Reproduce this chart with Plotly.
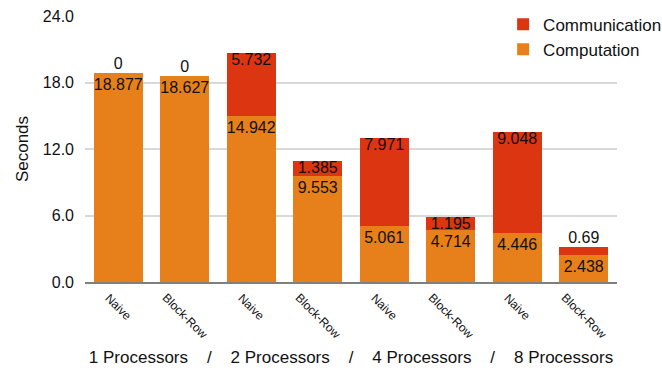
import plotly.graph_objects as go

# Data
methods = ["Naive", "Block-Row", "Naive", "Block-Row", "Naive", "Block-Row", "Naive", "Block-Row"]
computation = [18.877, 18.627, 14.942, 9.553, 5.061, 4.714, 4.446, 2.438]
communication = [0, 0, 5.732, 1.385, 7.971, 1.195, 9.048, 0.69]
y_ticks = [0, 6, 12, 18, 24]
group_title = ("1 Processors\u00a0\u00a0\u00a0\u00a0/\u00a0\u00a0\u00a0\u00a0"
               "2 Processors\u00a0\u00a0\u00a0\u00a0/\u00a0\u00a0\u00a0\u00a0"
               "4 Processors\u00a0\u00a0\u00a0\u00a0/\u00a0\u00a0\u00a0\u00a0"
               "8 Processors")

positions = list(range(len(methods)))
FONT = "Liberation Sans, Arial, Helvetica, sans-serif"


def fmt(v):
    return f"{v:g}"


stack_tops = [c + m for c, m in zip(computation, communication)]
# short communication segments carry their label above the stack,
# the others hang from the top of the stack
comm_textpos = ["top center" if v < 1.0 else "bottom center" for v in communication]

fig = go.Figure()
fig.add_trace(go.Bar(
    x=positions, y=computation, name="Computation",
    marker=dict(color="#E7801A", line=dict(width=0)),
    text=[fmt(v) for v in computation],
    textposition="inside", insidetextanchor="end", textangle=0,
    textfont=dict(color="#111111", size=16, family=FONT),
    constraintext="none",
))
fig.add_trace(go.Bar(
    x=positions, y=communication, name="Communication",
    marker=dict(color="#DC3511", line=dict(width=0)),
))
fig.add_trace(go.Scatter(
    x=positions, y=stack_tops, mode="text",
    text=[fmt(v) for v in communication], textposition=comm_textpos,
    textfont=dict(color="#111111", size=16, family=FONT),
    showlegend=False, hoverinfo="skip", cliponaxis=False,
))

# rotated method labels, centred under each bar
for p, m in zip(positions, methods):
    fig.add_annotation(
        x=p, y=0, xref="x", yref="y", text=m, showarrow=False,
        textangle=45, xanchor="center", yanchor="top", yshift=-6,
        font=dict(size=12, family=FONT, color="#111111"),
    )

fig.update_layout(
    width=662, height=372,
    margin=dict(l=85, r=45, t=16, b=90, autoexpand=False),
    barmode="stack", bargap=0.26,
    paper_bgcolor="white", plot_bgcolor="white",
    font=dict(family=FONT, color="#111111"),
    uniformtext=dict(minsize=16, mode="show"),
    legend=dict(
        xref="container", yref="container",
        x=0.76, y=0.982, xanchor="left", yanchor="top",
        font=dict(size=17, family=FONT), traceorder="reversed",
        bgcolor="rgba(0,0,0,0)",
    ),
    xaxis=dict(
        range=[-0.5, len(methods) - 0.5],
        tickmode="array", tickvals=positions, showticklabels=False,
        ticks="", showgrid=False, automargin=False,
        showline=True, linecolor="#7F7F7F", linewidth=1.5,
        title=dict(text=group_title, font=dict(size=17, family=FONT), standoff=68),
        zeroline=False,
    ),
    yaxis=dict(
        range=[0, 24], tickmode="array", tickvals=y_ticks,
        tickformat=".1f", tickfont=dict(size=16, family=FONT),
        ticklabelstandoff=10, automargin=False,
        showgrid=True, gridcolor="#D9D9D9", gridwidth=1.5,
        zeroline=False, showline=False, ticks="",
        title=dict(text="Seconds", font=dict(size=17, family=FONT), standoff=9),
    ),
)

fig.write_html("out.html")
